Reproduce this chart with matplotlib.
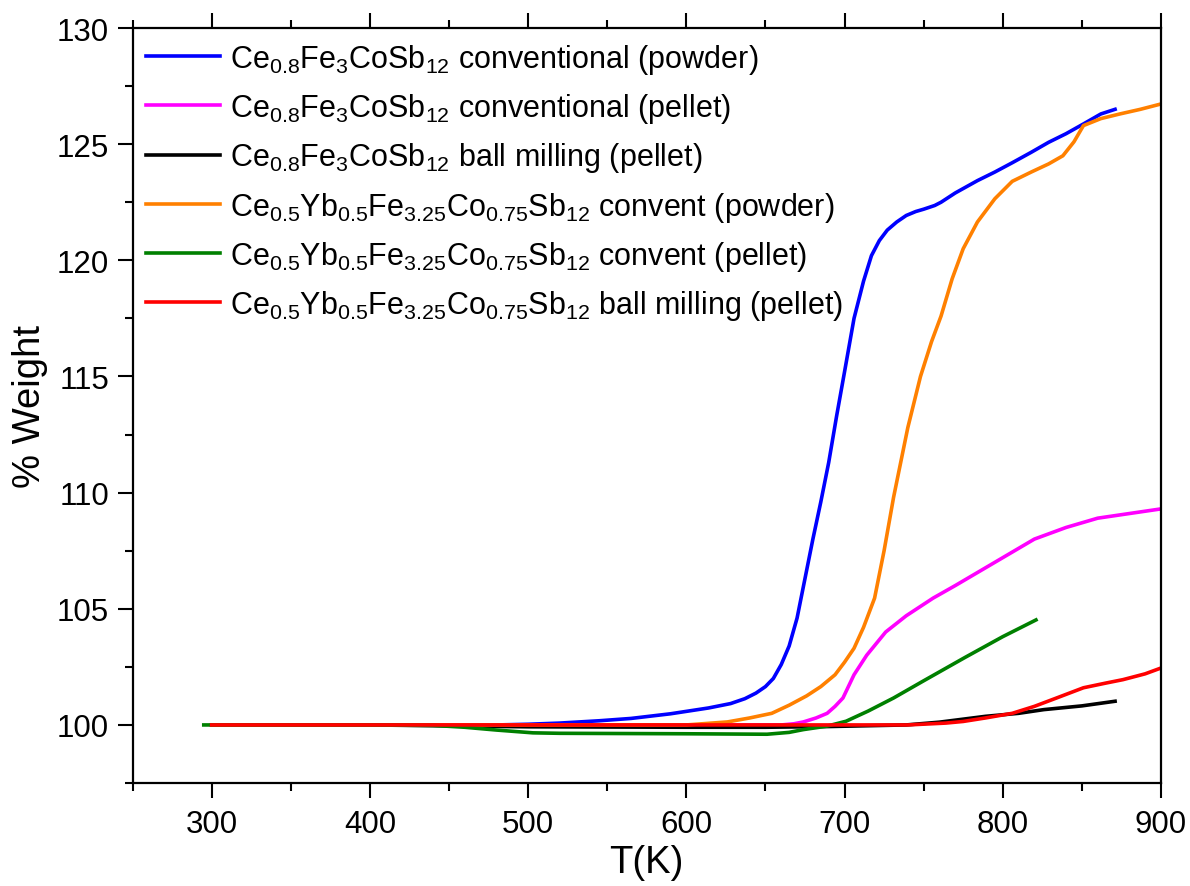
import matplotlib
matplotlib.use('Agg')
import matplotlib.pyplot as plt
from matplotlib.ticker import MultipleLocator

plt.rcParams['font.family'] = ['Liberation Sans', 'DejaVu Sans']
plt.rcParams['mathtext.fontset'] = 'custom'
plt.rcParams['mathtext.rm'] = 'Liberation Sans'
plt.rcParams['mathtext.it'] = 'Liberation Sans:italic'
plt.rcParams['mathtext.bf'] = 'Liberation Sans:bold'

# TGA curves
t_ce_conv_powder = [300, 400, 480, 500, 520, 545, 565, 590, 614, 628, 637, 644, 650, 655, 660,
                    665, 670, 675, 680, 685, 690, 695, 700, 706, 712, 717, 722, 727, 733, 739,
                    745, 750, 757, 761, 770, 784, 795, 806, 818, 829, 840, 851, 862, 871]
w_ce_conv_powder = [100, 100, 100.0, 100.03, 100.08, 100.18, 100.28, 100.48, 100.73, 100.92, 101.13,
                    101.37, 101.65, 102.0, 102.6, 103.4, 104.6, 106.3, 108.0, 109.6, 111.3, 113.3,
                    115.2, 117.5, 119.1, 120.2, 120.85, 121.3, 121.65, 121.93, 122.1, 122.2, 122.36,
                    122.5, 122.9, 123.43, 123.8, 124.2, 124.65, 125.08, 125.45, 125.87, 126.3, 126.5]

t_ce_conv_pellet = [300, 500, 600, 660, 668, 674, 682, 689, 694, 699, 706, 714, 726, 739, 756,
                    770, 780, 800, 820, 840, 860, 880, 900]
w_ce_conv_pellet = [100, 100, 100, 100.0, 100.05, 100.13, 100.3, 100.5, 100.8, 101.16, 102.16,
                    103.0, 104.0, 104.7, 105.46, 106.0, 106.4, 107.2, 108.0, 108.5, 108.9, 109.1, 109.3]

t_ce_ball_pellet = [300, 400, 500, 600, 650, 689, 739, 760, 789, 810, 826, 850, 871]
w_ce_ball_pellet = [100, 100, 99.92, 99.9, 99.9, 99.93, 100.0, 100.12, 100.37, 100.5, 100.66,
                    100.82, 101.02]

t_yb_conv_powder = [300, 500, 600, 626, 640, 654, 665, 676, 685, 694, 700, 706, 712, 719, 725,
                    731, 740, 748, 755, 761, 768, 775, 784, 795, 806, 818, 829, 838, 845, 851,
                    862, 874, 887, 900]
w_yb_conv_powder = [100, 100, 100, 100.13, 100.3, 100.5, 100.85, 101.25, 101.65, 102.16, 102.7,
                    103.3, 104.2, 105.46, 107.5, 109.8, 112.8, 115.0, 116.5, 117.6, 119.2, 120.5,
                    121.65, 122.65, 123.4, 123.8, 124.15, 124.5, 125.1, 125.8, 126.1, 126.3,
                    126.5, 126.73]

t_yb_conv_pellet = [295, 400, 440, 460, 480, 503, 520, 560, 600, 651, 665, 674, 689, 701, 715,
                    731, 750, 776, 800, 821]
w_yb_conv_pellet = [100, 100, 99.98, 99.9, 99.78, 99.66, 99.64, 99.63, 99.62, 99.6, 99.68, 99.8,
                    99.95, 100.16, 100.6, 101.16, 101.9, 102.9, 103.8, 104.52]

t_yb_ball_pellet = [300, 500, 700, 740, 764, 775, 789, 806, 820, 834, 851, 865, 876, 890, 900]
w_yb_ball_pellet = [100, 100, 100, 100.0, 100.08, 100.15, 100.3, 100.5, 100.8, 101.16, 101.6,
                    101.8, 101.95, 102.2, 102.45]

ce = r'Ce$_{\mathregular{0.8}}$Fe$_{\mathregular{3}}$CoSb$_{\mathregular{12}}$'
yb = (r'Ce$_{\mathregular{0.5}}$Yb$_{\mathregular{0.5}}$Fe$_{\mathregular{3.25}}$'
      r'Co$_{\mathregular{0.75}}$Sb$_{\mathregular{12}}$')

series = [
    (t_ce_conv_powder, w_ce_conv_powder, '#0000ff', ce + ' conventional (powder)'),
    (t_ce_conv_pellet, w_ce_conv_pellet, '#ff00ff', ce + ' conventional (pellet)'),
    (t_ce_ball_pellet, w_ce_ball_pellet, '#000000', ce + ' ball milling (pellet)'),
    (t_yb_conv_powder, w_yb_conv_powder, '#ff8000', yb + ' convent (powder)'),
    (t_yb_conv_pellet, w_yb_conv_pellet, '#008000', yb + ' convent (pellet)'),
    (t_yb_ball_pellet, w_yb_ball_pellet, '#ff0000', yb + ' ball milling (pellet)'),
]

fig = plt.figure(figsize=(11.9, 8.87), dpi=100)
ax = fig.add_axes([0.1114, 0.1161, 0.8642, 0.8512])

for t, w, c, lab in series:
    ax.plot(t, w, color=c, lw=2.6, label=lab)

ax.set_xlim(250, 900)
ax.set_ylim(97.5, 130)
ax.xaxis.set_major_locator(MultipleLocator(100))
ax.xaxis.set_minor_locator(MultipleLocator(50))
ax.yaxis.set_major_locator(MultipleLocator(5))
ax.yaxis.set_minor_locator(MultipleLocator(2.5))
ax.tick_params(which='both', direction='out', width=1.5, labelsize=22.5, top=True, right=False)
ax.tick_params(which='major', length=11)
ax.tick_params(which='minor', length=6)
ax.tick_params(axis='x', pad=8)
ax.tick_params(axis='y', pad=6)
for s in ax.spines.values():
    s.set_linewidth(1.6)

ax.set_xlabel('T(K)', fontsize=27.5, labelpad=3)
ax.set_ylabel('% Weight', fontsize=27.5, labelpad=6)

ax.legend(loc='upper left', frameon=False, fontsize=22, handlelength=2.4,
          handletextpad=0.35, labelspacing=0.5, borderaxespad=0.2, borderpad=0.25)

fig.savefig('out.png', dpi=100)
